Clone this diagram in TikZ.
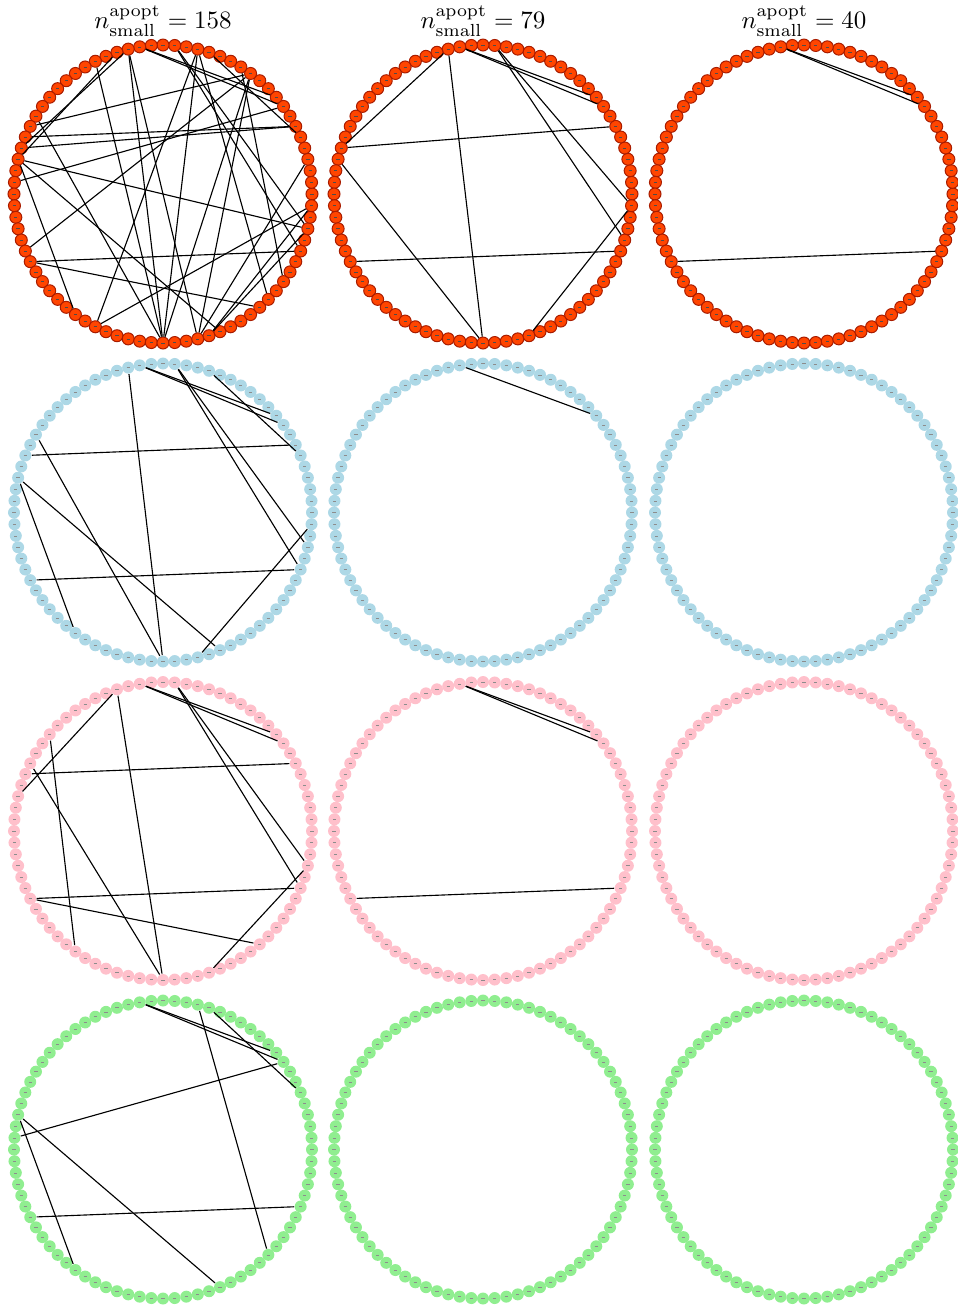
\documentclass[tikz,border=0pt]{standalone}
\usepackage{amsmath}
\usepackage{xcolor}
\definecolor{apopred}{HTML}{FF4500}
\definecolor{apopedge}{HTML}{A81C00}
\definecolor{apopblue}{HTML}{ADD8E6}
\definecolor{apoppink}{HTML}{FFC0CB}
\definecolor{apopgreen}{HTML}{90EE90}
\newcommand{\genemark}{\rule{1.3pt}{0.25pt}}

\begin{document}
\begin{tikzpicture}[x=0.4pt,y=-0.4pt,
  gene/.style={circle,inner sep=0pt,minimum size=4.8pt},
  redgene/.style={gene,fill=apopred,draw=apopedge,line width=0.4pt,text=black!70},
  bluegene/.style={gene,fill=apopblue,text=black!45},
  pinkgene/.style={gene,fill=apoppink,text=black!45},
  greengene/.style={gene,fill=apopgreen,text=black!45},
  link/.style={line width=0.45pt,black},
  every node/.style={font=\fontsize{10.4}{12}\selectfont}]
  \useasboundingbox (0,0) rectangle (958,1309);

  \node (t1) at (163,21) {$n^{\mathrm{apopt}}_{\mathrm{small}} = 158$};
  \node (t2) at (483,21) {$n^{\mathrm{apopt}}_{\mathrm{small}} = 79$};
  \node (t3) at (804,21) {$n^{\mathrm{apopt}}_{\mathrm{small}} = 40$};

  % rings of 80 genes, one per panel
  \foreach \p/\cx/\cy/\st in {r1/163/194/redgene, r2/483/194/redgene, r3/804/194/redgene,
      b1/163/512.5/bluegene, b2/483/512.5/bluegene, b3/804/512.5/bluegene,
      p1/163/831/pinkgene, p2/483/831/pinkgene, p3/804/831/pinkgene,
      g1/163/1149.5/greengene, g2/483/1149.5/greengene, g3/804/1149.5/greengene}
    \foreach \k in {0,...,79}
      \node[\st] (\p-\k) at ({\cx+149*cos(4.5*\k)},{\cy-149*sin(4.5*\k)}) {\genemark};

  % links
  \foreach \a/\b in {22/9, 22/8, 23/60, 24/37, 26/60, 23/63, 34/12, 35/6, 39/8, 37/77,
      37/65, 37/52, 46/75, 46/69, 45/12, 54/79, 60/17, 60/12, 63/12, 63/3, 19/75,
      19/77, 16/5, 17/70, 13/72, 17/54, 23/36, 36/6, 64/79, 33/60, 64/77}
    \draw[link] (r1-\a) -- (r1-\b);
  \foreach \a/\b in {22/9, 22/8, 46/75, 23/36, 23/60, 19/76, 19/79, 36/6, 37/60, 64/79}
    \draw[link] (r2-\a) -- (r2-\b);
  \foreach \a/\b in {22/9, 22/8, 46/75}
    \draw[link] (r3-\a) -- (r3-\b);
  \foreach \a/\b in {23/60, 22/9, 22/8, 19/75, 19/77, 16/5, 35/6, 33/60, 37/65, 37/52,
      46/75, 63/79}
    \draw[link] (b1-\a) -- (b1-\b);
  \draw[link] (b2-22) -- (b2-9);
  \foreach \a/\b in {24/60, 24/37, 22/9, 22/8, 19/77, 19/75, 35/6, 34/60, 46/75, 46/69,
      31/52, 64/77}
    \draw[link] (p1-\a) -- (p1-\b);
  \foreach \a/\b in {22/9, 22/8, 46/75}
    \draw[link] (p2-\a) -- (p2-\b);
  \foreach \a/\b in {22/9, 22/8, 17/70, 16/5, 39/8, 37/52, 37/65, 46/75}
    \draw[link] (g1-\a) -- (g1-\b);
\end{tikzpicture}
\end{document}
